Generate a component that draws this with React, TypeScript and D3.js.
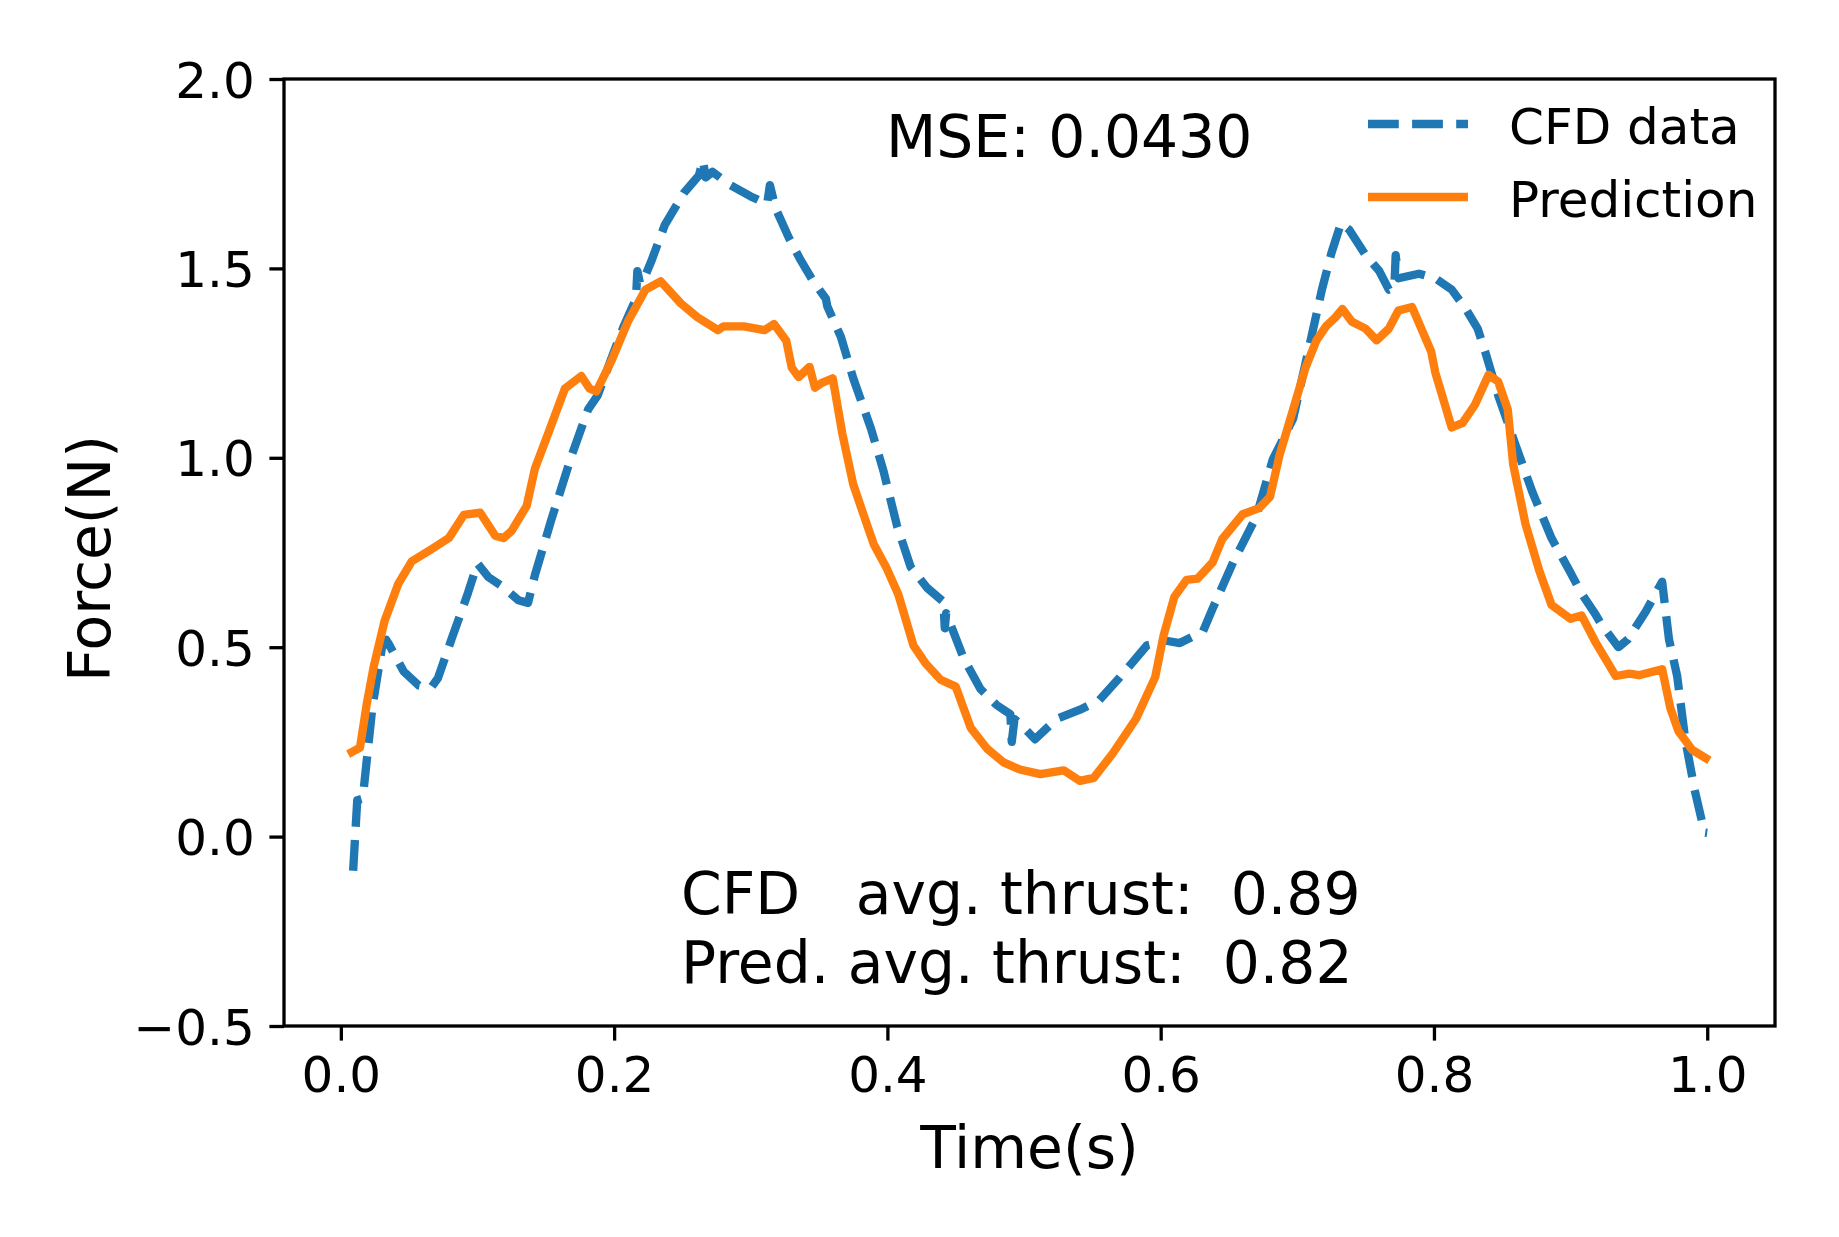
import React, { useEffect, useRef } from "react";
import * as d3 from "d3";

// CFD data (blue dashed)
const cfdTime = [
  0.009, 0.012, 0.016, 0.023, 0.03, 0.033, 0.035, 0.046, 0.057, 0.066, 0.071, 0.081, 0.093, 0.1, 0.108,
  0.118, 0.13, 0.137, 0.142, 0.154, 0.169, 0.181, 0.188, 0.198, 0.207, 0.216, 0.217, 0.219, 0.222, 0.227,
  0.237, 0.251, 0.262, 0.265, 0.267, 0.272, 0.285, 0.3, 0.312, 0.314, 0.318, 0.328, 0.336, 0.345, 0.355,
  0.356, 0.366, 0.375, 0.388, 0.397, 0.407, 0.417, 0.429, 0.441, 0.442, 0.443, 0.456, 0.468, 0.48, 0.49,
  0.491, 0.493, 0.497, 0.508, 0.524, 0.541, 0.555, 0.57, 0.59, 0.604, 0.614, 0.631, 0.638, 0.653, 0.67,
  0.682, 0.697, 0.709, 0.718, 0.725, 0.732, 0.738, 0.75, 0.76, 0.767, 0.771, 0.772, 0.774, 0.789, 0.801,
  0.813, 0.823, 0.832, 0.838, 0.847, 0.86, 0.872, 0.886, 0.899, 0.908, 0.918, 0.922, 0.935, 0.942, 0.955,
  0.967, 0.972, 0.978, 0.984, 0.991, 0.998, 1.0,
];
const cfdForce = [
  -0.09, 0.096, 0.1, 0.339, 0.497, 0.52, 0.509, 0.436, 0.399, 0.393, 0.418, 0.521, 0.643, 0.721, 0.685,
  0.661, 0.624, 0.617, 0.69, 0.836, 1.007, 1.128, 1.165, 1.262, 1.347, 1.42, 1.493, 1.46, 1.474, 1.517,
  1.614, 1.699, 1.745, 1.785, 1.74, 1.755, 1.72, 1.69, 1.67, 1.72, 1.66, 1.58, 1.525, 1.47, 1.42,
  1.4, 1.319, 1.21, 1.077, 0.967, 0.821, 0.712, 0.657, 0.62, 0.55, 0.59, 0.469, 0.39, 0.347, 0.323,
  0.25, 0.31, 0.299, 0.257, 0.311, 0.335, 0.36, 0.42, 0.505, 0.517, 0.511, 0.542, 0.602, 0.724, 0.845,
  0.995, 1.104, 1.298, 1.444, 1.541, 1.62, 1.602, 1.535, 1.493, 1.444, 1.45, 1.535, 1.474, 1.486, 1.474,
  1.444, 1.395, 1.341, 1.274, 1.165, 1.031, 0.91, 0.788, 0.703, 0.642, 0.588, 0.563, 0.5, 0.521, 0.594,
  0.673, 0.521, 0.424, 0.254, 0.12, 0.011, 0.01,
];

// Prediction (orange solid)
const predTime = [
  0.008, 0.014, 0.019, 0.024, 0.032, 0.042, 0.052, 0.066, 0.079, 0.09, 0.102, 0.113, 0.119, 0.125, 0.136,
  0.142, 0.152, 0.164, 0.176, 0.182, 0.187, 0.198, 0.21, 0.223, 0.234, 0.249, 0.261, 0.276, 0.28, 0.295,
  0.31, 0.317, 0.326, 0.33, 0.335, 0.343, 0.347, 0.352, 0.36, 0.367, 0.375, 0.383, 0.39, 0.399, 0.408,
  0.419, 0.428, 0.439, 0.45, 0.461, 0.473, 0.485, 0.497, 0.512, 0.529, 0.541, 0.551, 0.565, 0.582, 0.596,
  0.602, 0.61, 0.619, 0.627, 0.638, 0.645, 0.66, 0.672, 0.68, 0.687, 0.697, 0.706, 0.714, 0.721, 0.728,
  0.733, 0.74, 0.75, 0.758, 0.767, 0.774, 0.784, 0.798, 0.801, 0.813, 0.821, 0.83, 0.84, 0.847, 0.854,
  0.858, 0.867, 0.877, 0.886, 0.9, 0.908, 0.918, 0.93, 0.933, 0.943, 0.95, 0.967, 0.973, 0.979, 0.989,
  0.999,
];
const predForce = [
  0.223, 0.235, 0.351, 0.448, 0.569, 0.667, 0.727, 0.758, 0.788, 0.849, 0.855, 0.794, 0.788, 0.807, 0.873,
  0.971, 1.067, 1.183, 1.216, 1.183, 1.175, 1.256, 1.359, 1.444, 1.466, 1.407, 1.371, 1.337, 1.347, 1.347,
  1.337, 1.353, 1.309, 1.238, 1.213, 1.24, 1.185, 1.198, 1.21, 1.064, 0.93, 0.845, 0.772, 0.712, 0.639,
  0.505, 0.457, 0.414, 0.396, 0.287, 0.232, 0.196, 0.177, 0.165, 0.175, 0.147, 0.155, 0.22, 0.311, 0.421,
  0.529, 0.633, 0.678, 0.681, 0.724, 0.785, 0.851, 0.867, 0.897, 1.007, 1.128, 1.238, 1.31, 1.347, 1.371,
  1.393, 1.359, 1.341, 1.31, 1.341, 1.389, 1.398, 1.28, 1.225, 1.08, 1.092, 1.14, 1.219, 1.201, 1.128,
  0.982, 0.825, 0.703, 0.612, 0.575, 0.584, 0.515, 0.442, 0.424, 0.43, 0.426, 0.442, 0.339, 0.278, 0.229,
  0.207,
];

const xTicks = [0, 0.2, 0.4, 0.6, 0.8, 1.0];
const yTicks = [-0.5, 0, 0.5, 1.0, 1.5, 2.0];
const seriesLabels = ["CFD data", "Prediction"];
const annotationLines = ["CFD   avg. thrust:  0.89", "Pred. avg. thrust:  0.82"];
const mseLabel = "MSE: 0.0430";

interface Pt {
  t: number;
  f: number;
}

export default function App() {
  const chartRef = useRef<SVGSVGElement>(null);

  useEffect(() => {
    if (!chartRef.current) return;
    const root = d3.select(chartRef.current);
    root.selectAll("*").remove();

    const W = 1839;
    const H = 1237;
    const left = 284;
    const right = 1775;
    const top = 79;
    const bottom = 1026;
    const font = "'DejaVu Sans', sans-serif";
    const blue = "#1f77b4";
    const orange = "#ff7f0e";
    const lw = 8.33;
    const tickLen = 14.6;
    const spineW = 3.3;

    root.attr("width", W).attr("height", H);
    root.append("rect").attr("width", W).attr("height", H).attr("fill", "#fff");

    // matplotlib-like 5% margins on the time range
    const tMin = 0.008;
    const tMax = 1.0;
    const pad = (tMax - tMin) * 0.05;
    const x = d3.scaleLinear().domain([tMin - pad, tMax + pad]).range([left, right]);
    const y = d3.scaleLinear().domain([-0.5, 2.0]).range([bottom, top]);

    const cfd: Pt[] = cfdTime.map((t, i) => ({ t, f: cfdForce[i] }));
    const pred: Pt[] = predTime.map((t, i) => ({ t, f: predForce[i] }));

    root
      .append("defs")
      .append("clipPath")
      .attr("id", "plot-clip")
      .append("rect")
      .attr("x", left)
      .attr("y", top)
      .attr("width", right - left)
      .attr("height", bottom - top);

    const line = d3
      .line<Pt>()
      .x((d) => x(d.t))
      .y((d) => y(d.f));

    const plot = root.append("g").attr("clip-path", "url(#plot-clip)");

    plot
      .append("path")
      .datum(cfd)
      .attr("fill", "none")
      .attr("stroke", blue)
      .attr("stroke-width", lw)
      .attr("stroke-dasharray", "30.8 13.3")
      .attr("stroke-linejoin", "round")
      .attr("d", line);

    plot
      .append("path")
      .datum(pred)
      .attr("fill", "none")
      .attr("stroke", orange)
      .attr("stroke-width", lw)
      .attr("stroke-linejoin", "round")
      .attr("stroke-linecap", "square")
      .attr("d", line);

    // Spines
    root
      .append("rect")
      .attr("x", left)
      .attr("y", top)
      .attr("width", right - left)
      .attr("height", bottom - top)
      .attr("fill", "none")
      .attr("stroke", "#000")
      .attr("stroke-width", spineW);

    // X axis
    const xAxis = d3
      .axisBottom(x)
      .tickValues(xTicks)
      .tickSize(tickLen)
      .tickPadding(14.6)
      .tickFormat(d3.format(".1f"));
    const gx = root.append("g").attr("transform", `translate(0,${bottom})`).call(xAxis);
    gx.select(".domain").remove();
    gx.selectAll("line").attr("stroke", "#000").attr("stroke-width", spineW);
    gx.selectAll("text")
      .attr("fill", "#000")
      .attr("font-family", font)
      .attr("font-size", 50)
      .attr("dy", "0.73em");

    // Y axis
    const yAxis = d3
      .axisLeft(y)
      .tickValues(yTicks)
      .tickSize(tickLen)
      .tickPadding(14.6)
      .tickFormat((d) => d3.format(".1f")(d as number).replace("-", "\u2212"));
    const gy = root.append("g").attr("transform", `translate(${left},0)`).call(yAxis);
    gy.select(".domain").remove();
    gy.selectAll("line").attr("stroke", "#000").attr("stroke-width", spineW);
    gy.selectAll("text")
      .attr("fill", "#000")
      .attr("font-family", font)
      .attr("font-size", 50)
      .attr("dy", "0.36em");

    // Axis labels
    root
      .append("text")
      .attr("x", (left + right) / 2)
      .attr("y", 1168)
      .attr("text-anchor", "middle")
      .attr("font-family", font)
      .attr("font-size", 58.3)
      .text("Time(s)");

    root
      .append("text")
      .attr("transform", `translate(110,${(top + bottom) / 2 + 6}) rotate(-90)`)
      .attr("text-anchor", "middle")
      .attr("font-family", font)
      .attr("font-size", 58.3)
      .text("Force(N)");

    // MSE annotation
    root
      .append("text")
      .attr("x", 886)
      .attr("y", 157)
      .attr("font-family", font)
      .attr("font-size", 58.3)
      .text(mseLabel);

    // Average thrust annotation
    annotationLines.forEach((s, i) => {
      root
        .append("text")
        .attr("x", 681)
        .attr("y", 914 + i * 69)
        .attr("font-family", font)
        .attr("font-size", 58.3)
        .style("white-space", "pre")
        .text(s);
    });

    // Legend
    const legend = root.append("g");
    const legendRows = [
      { label: seriesLabels[0], color: blue, dash: "30.8 13.3" },
      { label: seriesLabels[1], color: orange, dash: null },
    ];
    legendRows.forEach((r, i) => {
      const ly = 124 + i * 73;
      legend
        .append("line")
        .attr("x1", 1368)
        .attr("x2", 1468)
        .attr("y1", ly)
        .attr("y2", ly)
        .attr("stroke", r.color)
        .attr("stroke-width", lw)
        .attr("stroke-dasharray", r.dash);
      legend
        .append("text")
        .attr("x", 1509)
        .attr("y", ly + 20)
        .attr("font-family", font)
        .attr("font-size", 50)
        .text(r.label);
    });
  }, []);

  return (
    <div style={{ position: "absolute", left: 0, top: 0 }}>
      <svg ref={chartRef} style={{ display: "block" }} />
    </div>
  );
}
